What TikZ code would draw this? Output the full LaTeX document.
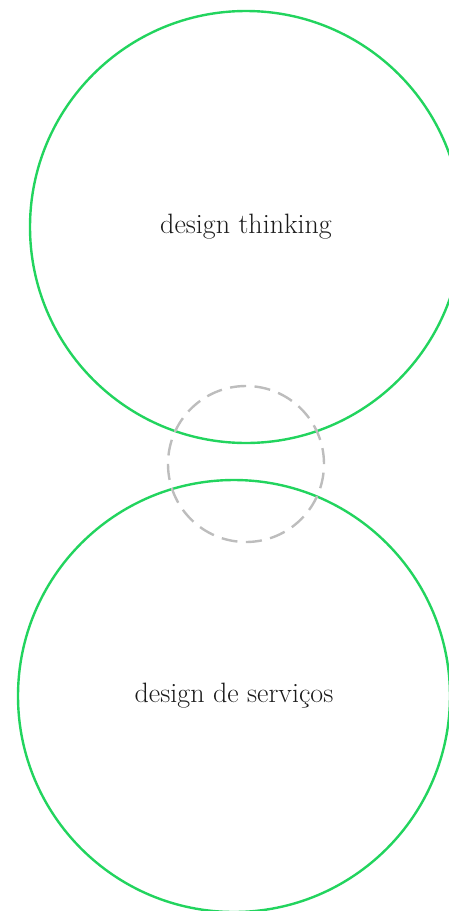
\documentclass[tikz,border=0pt]{standalone}
\usepackage{fontspec}
\usepackage{tikz}

\definecolor{ringgreen}{HTML}{22D45E}
\definecolor{ringgray}{HTML}{BDBDBD}
\definecolor{inkdark}{HTML}{1A1A1A}

\begin{document}
\begin{tikzpicture}[x=1pt,y=-1pt,
        bigring/.style={circle,draw=ringgreen,line width=2.4pt,minimum size=432pt,inner sep=0pt,
            text=inkdark,font=\fontsize{28}{32}\selectfont\addfontfeature{FakeBold=1.8}},
        smallring/.style={circle,draw=ringgray,line width=2.4pt,minimum size=156pt,inner sep=0pt,
            dash pattern=on 16pt off 8.5pt}]
        \useasboundingbox (0,0) rectangle (449,911);
        \clip (0,0) rectangle (449,911);
        \node[bigring] (thinking) at (246,227) {design thinking};
        \node[bigring] (servicos) at (234,696) {design de serviços};
        \node[smallring] (overlap) at (246,464) {};
    \end{tikzpicture}
\end{document}
